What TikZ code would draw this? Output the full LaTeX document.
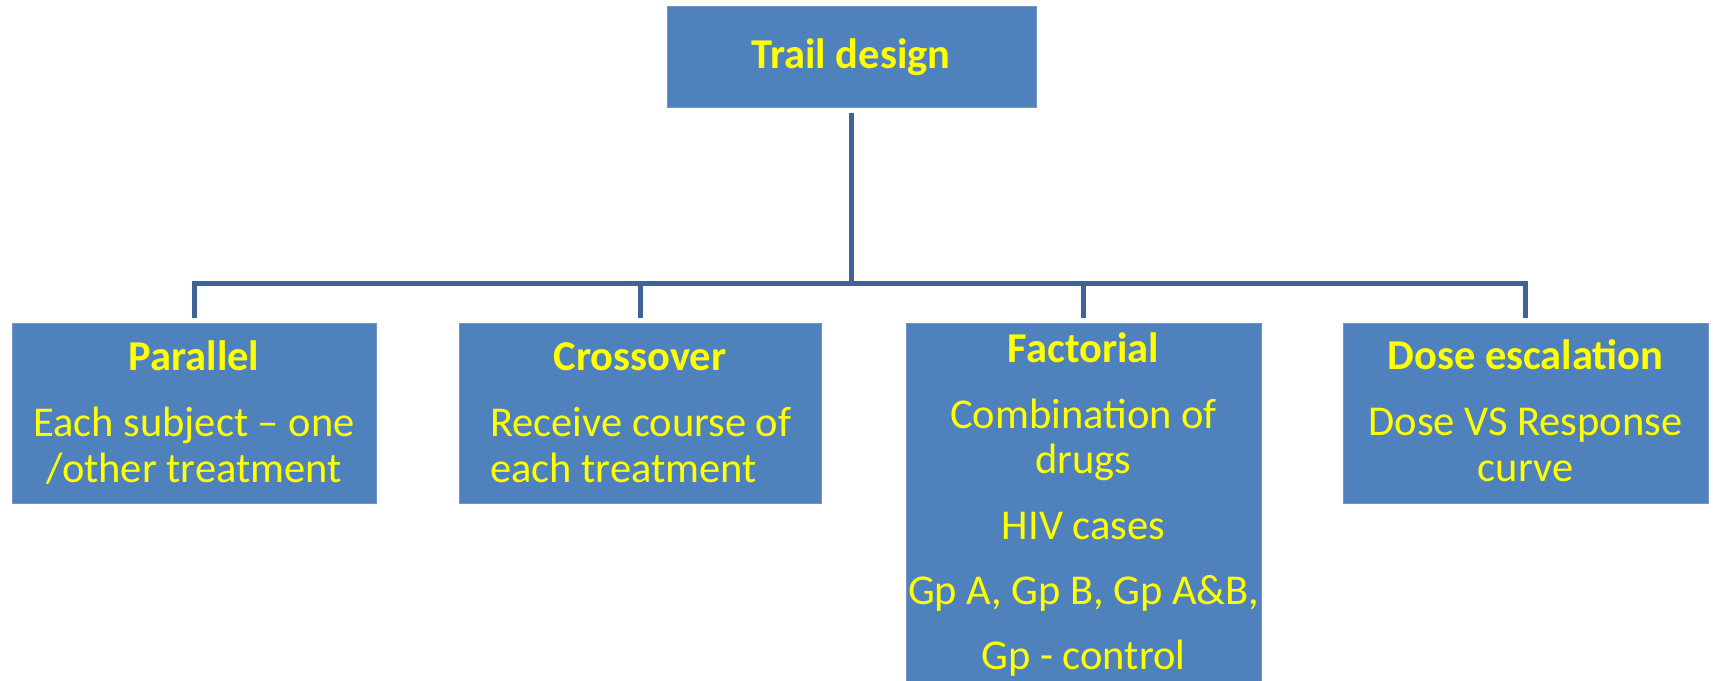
\documentclass[tikz,border=0pt]{standalone}
\usepackage{fontspec}
\setmainfont{Carlito}
\definecolor{boxblue}{HTML}{4F81BD}
\definecolor{boxedge}{HTML}{7096C8}
\definecolor{linkblue}{HTML}{3D6399}
\definecolor{ylw}{HTML}{FFFF00}
\newcommand{\bodyfont}{\fontsize{42.5}{46}\selectfont}
\tikzset{
  box/.style={rectangle, fill=boxblue, draw=boxedge, line width=0.8pt, inner sep=0pt},
  txt/.style={anchor=base, text=ylw, font=\bodyfont, inner sep=0pt},
  head/.style={txt, font=\bodyfont\bfseries},
  conn/.style={draw=linkblue, line width=5pt, line join=miter}
}
\begin{document}
\begin{tikzpicture}[x=1pt, y=-1pt]
  \useasboundingbox (0,0) rectangle (1713,680);
  \clip (0,0) rectangle (1713,680);

  % boxes
  \node[box, minimum width=369pt, minimum height=101pt] (top)   at (851.5,56.5) {};
  \node[box, minimum width=364pt, minimum height=180pt] (par)   at (194,413) {};
  \node[box, minimum width=362pt, minimum height=180pt] (cross) at (640,413) {};
  \node[box, minimum width=355pt, minimum height=380pt] (fact)  at (1083.5,513) {};
  \node[box, minimum width=365pt, minimum height=180pt] (dose)  at (1525.5,413) {};

  % connectors
  \coordinate (bar) at (851.5,283);
  \draw[conn, shorten <=6pt] (top.south) -- (top.south |- bar);
  \draw[conn, shorten <=5pt, shorten >=5pt]
    (par.north) -- (par.north |- bar) -- (dose.north |- bar) -- (dose.north);
  \draw[conn, shorten >=5pt] (cross.north |- bar) -- (cross.north);
  \draw[conn, shorten >=5pt] (fact.north |- bar) -- (fact.north);

  % title
  \node[head] (ttl) at (851,68.3) {Trail design};

  % Parallel
  \node[head] (parH) at (194,370) {Parallel};
  \node[txt] (par1) at (194,436) {Each subject \textendash\ one};
  \node[txt] (par2) at (194,482) {/other treatment};

  % Crossover
  \node[head] (crH) at (640,370) {Crossover};
  \node[txt] (cr1) at (640.7,436) {Receive course of};
  \node[txt, anchor=base west] (cr2) at (cr1.base west |- 0,482) {each treatment};

  % Factorial
  \node[head] (faH) at (1083.5,362) {Factorial};
  \node[txt] (fa1) at (1083.5,428) {Combination of};
  \node[txt] (fa2) at (1083.5,473) {drugs};
  \node[txt] (fa3) at (1083.5,539) {HIV cases};
  \node[txt] (fa4) at (1083.5,604) {Gp A, Gp B, Gp A\&B,};
  \node[txt] (fa5) at (1083.5,669) {Gp - control};

  % Dose escalation
  \node[head] (doH) at (1525.5,369.5) {Dose escalation};
  \node[txt] (do1) at (1525.5,435) {Dose VS Response};
  \node[txt] (do2) at (1525.5,481) {curve};
\end{tikzpicture}
\end{document}
